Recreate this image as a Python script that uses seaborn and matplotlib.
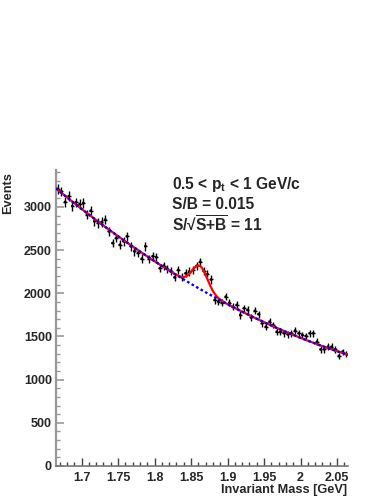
import numpy as np
import pandas as pd
import matplotlib
matplotlib.use("Agg")
import matplotlib.pyplot as plt
from matplotlib.ticker import MultipleLocator, FixedLocator, FixedFormatter
import seaborn as sns

# ---------------- data ----------------
hist_range = (1.665, 2.065)
n_bins = 80
counts = [3208, 3180, 3058, 3124, 3010, 3054, 3035, 3046, 2911, 2957,
          2834, 2815, 2826, 2853, 2718, 2583, 2641, 2563, 2603, 2660,
          2545, 2487, 2467, 2401, 2545, 2400, 2429, 2417, 2290, 2320,
          2285, 2262, 2185, 2270, 2185, 2232, 2252, 2270, 2318, 2365,
          2262, 2222, 2160, 1923, 1903, 1891, 1961, 1891, 1845, 1865,
          1749, 1827, 1807, 1720, 1797, 1758, 1653, 1614, 1672, 1633,
          1556, 1556, 1537, 1525, 1537, 1567, 1537, 1517, 1506, 1537,
          1537, 1440, 1351, 1351, 1382, 1382, 1351, 1274, 1324, 1297]
# fit parameters: background = p0 + p1*(m-m0) + p2*(m-m0)^2 ; signal gaussian
bkg_origin = 1.665
bkg_params = [3215.0, -6975.0, 5396.0]
sig_params = [268.0, 1.862, 0.0105]   # amplitude, mean, sigma

x_ticks = [1.7, 1.75, 1.8, 1.85, 1.9, 1.95, 2.0, 2.05]
x_ticklabels = ["1.7", "1.75", "1.8", "1.85", "1.9", "1.95", "2", "2.05"]
y_ticks = [0, 500, 1000, 1500, 2000, 2500, 3000]
y_ticklabels = ["0", "500", "1000", "1500", "2000", "2500", "3000"]
text_lines = [r"0.5 < p$_{\rm t}$ < 1 GeV/c", "S/B = 0.015",
              r"S/√$\overline{\rm S{+}B}$ = 11"]
x_title = "Invariant Mass [GeV]"
y_title = "Events"

# ---------------- style ----------------
sns.set_theme(style="white")
plt.rcParams["font.family"] = ["Liberation Sans", "DejaVu Sans"]
plt.rcParams["font.weight"] = "bold"
plt.rcParams["mathtext.fontset"] = "custom"
plt.rcParams["mathtext.rm"] = "Liberation Sans:bold"
plt.rcParams["mathtext.it"] = "Liberation Sans:bold"
plt.rcParams["mathtext.bf"] = "Liberation Sans:bold"

W, H = 387, 501
fig = plt.figure(figsize=(W / 100, H / 100), dpi=100)
fig.patch.set_facecolor("white")
ax = fig.add_axes([56 / W, 35 / H, 292 / W, 296 / H])
ax.set_facecolor("white")

edges = np.linspace(hist_range[0], hist_range[1], n_bins + 1)
centers = 0.5 * (edges[:-1] + edges[1:])
cnt = np.array(counts, dtype=float)
df = pd.DataFrame({"mass": centers, "events": cnt})

ax.errorbar(df["mass"], df["events"], yerr=np.sqrt(df["events"]),
            xerr=(edges[1] - edges[0]) / 2, fmt="none", ecolor="black",
            elinewidth=1.0, capsize=0, zorder=2)
sns.scatterplot(data=df, x="mass", y="events", ax=ax, s=4, color="black",
                edgecolor="none", zorder=3, legend=False)

xs = np.linspace(hist_range[0], hist_range[1], 600)
u = xs - bkg_origin
bkg = bkg_params[0] + bkg_params[1] * u + bkg_params[2] * u ** 2
sig = sig_params[0] * np.exp(-0.5 * ((xs - sig_params[1]) / sig_params[2]) ** 2)
curves = pd.DataFrame({"mass": xs, "total": bkg + sig, "bkg": bkg})
sns.lineplot(data=curves, x="mass", y="total", ax=ax, color="red", lw=1.6,
             zorder=4, sort=False)
sns.lineplot(data=curves, x="mass", y="bkg", ax=ax, color="blue", lw=1.7,
             linestyle=(0, (1.1, 1.1)), zorder=5, sort=False)

ax.set_xlim(*hist_range)
ax.set_ylim(0, 3428)
ax.set_xlabel("")
ax.set_ylabel("")

for s in ["top", "right"]:
    ax.spines[s].set_visible(False)
ax.spines["left"].set_color("#999999")
ax.spines["left"].set_linewidth(1.6)
ax.spines["bottom"].set_color("#777777")
ax.spines["bottom"].set_linewidth(1.2)

ax.xaxis.set_major_locator(FixedLocator(x_ticks))
ax.xaxis.set_major_formatter(FixedFormatter(x_ticklabels))
ax.xaxis.set_minor_locator(MultipleLocator(0.01))
ax.yaxis.set_major_locator(FixedLocator(y_ticks))
ax.yaxis.set_major_formatter(FixedFormatter(y_ticklabels))
ax.yaxis.set_minor_locator(MultipleLocator(100))

ax.tick_params(axis="x", which="both", direction="in", bottom=True, top=False,
               color="#444444", labelsize=9, pad=4)
ax.tick_params(axis="x", which="major", length=6, width=1.0)
ax.tick_params(axis="x", which="minor", length=3, width=1.0)
ax.tick_params(axis="y", which="both", direction="in", left=True, right=False,
               color="#999999", labelsize=9, pad=3)
ax.tick_params(axis="y", which="major", length=5.5, width=1.2)
ax.tick_params(axis="y", which="minor", length=3, width=1.0)
for lab in ax.get_xticklabels() + ax.get_yticklabels():
    lab.set_fontweight("bold")

fig.text(0.021, 1 - 172 / H, y_title, rotation=90, ha="center",
         va="top", fontsize=9.2, fontweight="bold")
fig.text(347 / W, 1 - 490 / H, x_title, ha="right", va="center",
         fontsize=9.2, fontweight="bold")

baselines = [189, 209, 231]
for line, yb in zip(text_lines, baselines):
    fig.text(172 / W, 1 - yb / H, line, ha="left", va="baseline",
             fontsize=11.2, fontweight="bold")

fig.savefig("out.png", dpi=100, facecolor="white")
